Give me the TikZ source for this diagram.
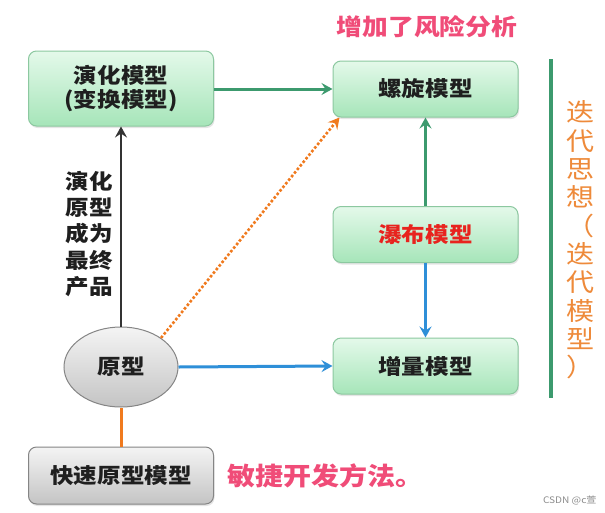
\documentclass[tikz,border=0pt]{standalone}
\usepackage{fontspec}
\setmainfont{Noto Sans CJK SC}[FakeStretch=1.12]
\usetikzlibrary{shapes.geometric,arrows.meta,shadows}
\definecolor{gborder}{HTML}{8CC8A0}
\definecolor{gtop}{HTML}{E4F9EA}
\definecolor{gbot}{HTML}{A6E5B9}
\definecolor{ytop}{HTML}{F4F4F4}
\definecolor{ybot}{HTML}{C4C4C4}
\definecolor{yborder}{HTML}{858585}
\definecolor{cgreen}{HTML}{3C9A6E}
\definecolor{cblue}{HTML}{2E8FD8}
\definecolor{corange}{HTML}{F07A1E}
\definecolor{cblack}{HTML}{333333}
\definecolor{cpink}{HTML}{F04C78}
\definecolor{cred}{HTML}{E8231E}
\definecolor{vorange}{HTML}{EE8A3A}
\begin{document}
\begin{tikzpicture}[x=1pt,y=-1pt,
  modelbox/.style={draw=gborder, line width=1pt, rounded corners=8pt,
    top color=gtop, bottom color=gbot, minimum width=185pt, minimum height=56pt,
    align=center, text=black!88, font=\fontsize{21}{24}\selectfont\bfseries,
    drop shadow={opacity=0.2, shadow xshift=1pt, shadow yshift=-2pt}},
  graybox/.style={draw=yborder, line width=1pt, rounded corners=8pt,
    top color=ytop, bottom color=ybot, minimum width=185pt, minimum height=57pt,
    align=center, text=black!88, font=\fontsize{21}{24}\selectfont\bfseries,
    drop shadow={opacity=0.2, shadow xshift=1pt, shadow yshift=-2pt}},
  protoell/.style={ellipse, draw=yborder, line width=1pt, top color=ytop, bottom color=ybot,
    minimum width=114pt, minimum height=80pt, inner sep=0pt, text=black!88,
    font=\fontsize{21}{24}\selectfont\bfseries},
  conn/.style={line width=3pt, -{Stealth[length=11pt,width=12pt,inset=4pt]}}
]
\useasboundingbox (0,0) rectangle (605,512);
\fill[white] (0,0) rectangle (605,512);

\node[modelbox, minimum height=75pt] (evo) at (121,88.5) {演化模型\\(变换模型)};
\node[modelbox] (spiral) at (425.5,89) {螺旋模型};
\node[modelbox, text=cred] (water) at (425.5,234.5) {瀑布模型};
\node[modelbox] (incr) at (425.5,366) {增量模型};
\node[protoell] (proto) at (121,367) {原型};
\node[graybox] (fast) at (121,475.5) {快速原型模型};

\node[text=cpink, font=\fontsize{23}{26}\selectfont\bfseries] (risk) at (427,27) {增加了风险分析};
\node[text=cpink, font=\fontsize{25}{28}\selectfont\bfseries, anchor=west] (agile) at (224,476) {敏捷开发方法。};
\node[text=black!88, font=\fontsize{21}{26.3}\selectfont\bfseries, align=center] (lbl) at (89,234) {演化\\原型\\成为\\最终\\产品};

\coordinate (vtop) at (551,59);
\coordinate (vbot) at (551,398);
\draw[cgreen, line width=3.5pt] (vtop) -- (vbot);
\node[text=vorange, font=\fontsize{25}{28.3}\selectfont, align=center, inner sep=0pt] (iter) at (580,240) {迭\\代\\思\\想\\（\\迭\\代\\模\\型\\）};

\draw[conn, cgreen] (evo.east |- spiral.west) -- (spiral.west);
\draw[conn, cblack, line width=2.6pt] (proto.north) -- (evo.south);
\draw[conn, corange, line width=2.6pt, dotted] (proto.36) -- ([xshift=7pt]spiral.south west);
\draw[conn, cblue] (proto.east) -- (incr.west);
\draw[conn, cgreen] (water.north) -- (spiral.south);
\draw[conn, cblue] (water.south) -- (incr.north);
\draw[corange, line width=3pt] (fast.north) -- (proto.south);

\node[text=black!45, font=\fontsize{9}{10}\selectfont, anchor=east] (wm) at (600,500) {CSDN @c萱};
\end{tikzpicture}
\end{document}
